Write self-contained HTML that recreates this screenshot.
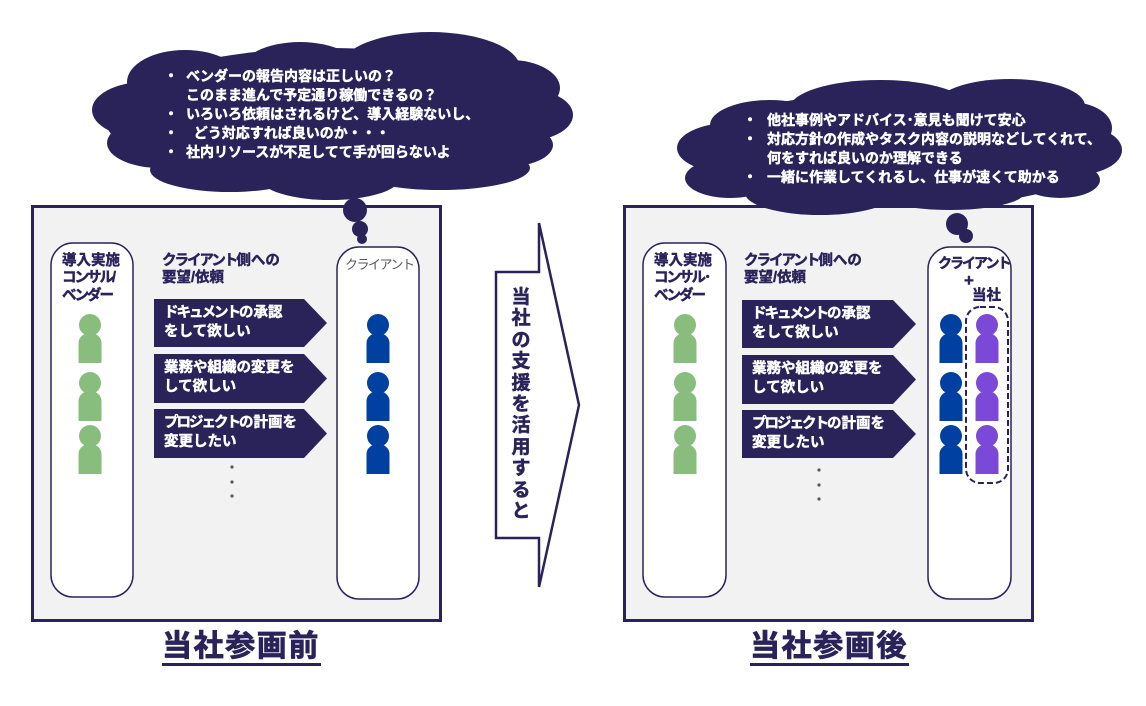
<!DOCTYPE html>
<html><head><meta charset="utf-8">
<style>
html,body{margin:0;padding:0;}
body{width:1146px;height:706px;position:relative;overflow:hidden;background:#fff;font-family:"Liberation Sans","Noto Sans CJK JP",sans-serif;}
.t{position:absolute;white-space:nowrap;font-weight:bold;-webkit-text-stroke:0.45px currentColor;}
.w{color:#fff;font-size:14px;line-height:19px;}
.n{color:#2a235a;}
.k{letter-spacing:-2px;}
.lbl{font-size:14.5px;line-height:17.5px;}
.ar{color:#fff;font-size:14.5px;line-height:19px;}
.ttl{font-size:30px;line-height:34px;color:#2a235a;-webkit-text-stroke:0.8px #2a235a;}
.ul{position:absolute;height:2.5px;background:#2a235a;}
.vt{position:absolute;left:509px;top:287px;width:24px;font-size:19px;line-height:21.4px;font-weight:bold;color:#2a235a;text-align:center;word-break:break-all;-webkit-text-stroke:0.5px #2a235a;}
</style></head><body>
<svg width="1146" height="706" style="position:absolute;left:0;top:0" xmlns="http://www.w3.org/2000/svg">
<rect x="32.5" y="206.5" width="408" height="414" fill="#f2f2f2" stroke="#2a235a" stroke-width="3"/>
<rect x="624.5" y="206.5" width="408" height="414" fill="#f2f2f2" stroke="#2a235a" stroke-width="3"/>
<g fill="#2a235a">
<ellipse cx="330" cy="118" rx="225" ry="70"/>
<ellipse cx="185" cy="82" rx="58" ry="32"/>
<ellipse cx="145" cy="110" rx="53" ry="28"/>
<ellipse cx="160" cy="143" rx="53" ry="25"/>
<ellipse cx="230" cy="170" rx="80" ry="22"/>
<ellipse cx="330" cy="178" rx="70" ry="22"/>
<ellipse cx="440" cy="168" rx="90" ry="22"/>
<ellipse cx="300" cy="72" rx="60" ry="30"/>
<ellipse cx="430" cy="68" rx="90" ry="36"/>
<ellipse cx="510" cy="88" rx="50" ry="28"/>
<ellipse cx="525" cy="115" rx="48" ry="26"/>
<ellipse cx="505" cy="145" rx="48" ry="22"/>
<circle cx="355" cy="210" r="12"/>
<circle cx="360" cy="229" r="8"/>
<circle cx="362" cy="239" r="5"/>
</g>
<g fill="#2a235a">
<ellipse cx="900" cy="150" rx="210" ry="58"/>
<ellipse cx="770" cy="125" rx="60" ry="25"/>
<ellipse cx="880" cy="108" rx="90" ry="28"/>
<ellipse cx="1010" cy="106" rx="75" ry="27"/>
<ellipse cx="1070" cy="128" rx="42" ry="26"/>
<ellipse cx="730" cy="148" rx="53" ry="25"/>
<ellipse cx="730" cy="178" rx="45" ry="20"/>
<ellipse cx="1075" cy="150" rx="47" ry="25"/>
<ellipse cx="1060" cy="180" rx="40" ry="18"/>
<ellipse cx="820" cy="193" rx="75" ry="22"/>
<ellipse cx="950" cy="192" rx="75" ry="18"/>
<circle cx="957" cy="224" r="11"/>
<circle cx="966" cy="236" r="7"/>
</g>
<g fill="#fff" stroke="#2a235a" stroke-width="1.5">
<rect x="51" y="243" width="82" height="354" rx="22"/>
<rect x="337" y="247" width="82" height="352" rx="22"/>
<rect x="643" y="243" width="83" height="354" rx="22"/>
<rect x="928" y="247" width="83" height="352" rx="22"/>
</g>
<g fill="#2a235a">
<polygon points="154,299 304,299 327,323 304,347 154,347"/>
<polygon points="154,354 304,354 327,378.5 304,403 154,403"/>
<polygon points="154,409 304,409 327,433.5 304,458 154,458"/>
<polygon points="742,300 893,300 916,324 893,348 742,348"/>
<polygon points="742,355 893,355 916,379.5 893,404 742,404"/>
<polygon points="742,410 893,410 916,434 893,458 742,458"/>
</g>
<g fill="#595959">
<circle cx="232" cy="467" r="1.6"/><circle cx="232" cy="482" r="1.6"/><circle cx="232" cy="496" r="1.6"/>
<circle cx="819" cy="470" r="1.6"/><circle cx="819" cy="485" r="1.6"/><circle cx="819" cy="499" r="1.6"/>
</g>
<rect x="966" y="307" width="42" height="176" rx="14" fill="none" stroke="#2a235a" stroke-width="2" stroke-dasharray="6,3"/>
<defs>
<g id="p">
<circle cx="0" cy="0" r="11"/>
<path d="M-11.5,38 V18 A11.5,10 0 0 1 11.5,18 V38 Z"/>
</g>
</defs>
<g fill="#88bd7e">
<use href="#p" x="90" y="325"/><use href="#p" x="90" y="383"/><use href="#p" x="90" y="436"/>
<use href="#p" x="685" y="325"/><use href="#p" x="685" y="383"/><use href="#p" x="685" y="436"/>
</g>
<g fill="#0040a0">
<use href="#p" x="378" y="325"/><use href="#p" x="378" y="383"/><use href="#p" x="378" y="436"/>
<use href="#p" x="951" y="325"/><use href="#p" x="951" y="383"/><use href="#p" x="951" y="436"/>
</g>
<g fill="#7b48d8">
<use href="#p" x="987" y="325"/><use href="#p" x="987" y="383"/><use href="#p" x="987" y="436"/>
</g>
<polygon points="496,272 539,272 539,223 579,405 539,587 539,538 496,538" fill="#fff" stroke="#2a235a" stroke-width="2.5" stroke-linejoin="miter"/>
</svg>

<div class="t w" style="left:164px;top:67px;">・<br><br>・<br>・<br>・</div>
<div class="t w" style="left:186px;top:67px;">ベンダーの報告内容は正しいの？<br>このまま進んで予定通り稼働できるの？<br>いろいろ依頼はされるけど、導入経験ないし、<br>&nbsp;&nbsp;どう対応すれば良いのか・・・<br>社内リソースが不足してて手が回らないよ</div>

<div class="t w" style="left:743px;top:111px;">・<br>・<br><br>・</div>
<div class="t w" style="left:767px;top:111px;">他社事例やアドバイス･意見も聞けて安心<br>対応方針の作成やタスク内容の説明などしてくれて、<br>何をすれば良いのか理解できる<br>一緒に作業してくれるし、仕事が速くて助かる</div>

<div class="t n lbl" style="left:62px;top:252.5px;">導入実施<br><span class="k">コンサル</span>/<br><span class="k">ベンダー</span></div>
<div class="t n lbl" style="left:162px;top:252.5px;line-height:17px;"><span class="k">クライアント</span>側への<br>要望/依頼</div>
<div class="t" style="left:345px;top:255px;font-weight:normal;-webkit-text-stroke:0;color:#595959;font-size:13px;line-height:19px;letter-spacing:-1.5px;">クライアント</div>
<div class="t ar" style="left:164px;top:303.7px;"><span class="k">ドキュメント</span>の承認<br>をして欲しい</div>
<div class="t ar" style="left:164px;top:358.7px;">業務や組織の変更を<br>して欲しい</div>
<div class="t ar" style="left:164px;top:413.7px;"><span class="k">プロジェクト</span>の計画を<br>変更したい</div>

<div class="t n lbl" style="left:654px;top:252.5px;">導入実施<br><span class="k">コンサル</span>･<br><span class="k">ベンダー</span></div>
<div class="t n lbl" style="left:744px;top:252.5px;line-height:17px;"><span class="k">クライアント</span>側への<br>要望/依頼</div>
<div class="t n" style="left:938px;top:254px;font-size:14px;line-height:19px;letter-spacing:-2px;">クライアント</div>
<div class="t n" style="left:964px;top:271px;font-size:17px;line-height:20px;">+</div>
<div class="t n" style="left:972px;top:287px;font-size:14.5px;line-height:19px;">当社</div>
<div class="t ar" style="left:752px;top:304.7px;"><span class="k">ドキュメント</span>の承認<br>をして欲しい</div>
<div class="t ar" style="left:752px;top:359.7px;">業務や組織の変更を<br>して欲しい</div>
<div class="t ar" style="left:752px;top:414.7px;"><span class="k">プロジェクト</span>の計画を<br>変更したい</div>

<div class="vt">当社の支援を活用すると</div>

<div class="t ttl" style="left:162px;top:630px;letter-spacing:1.6px;">当社参画前</div>
<div class="ul" style="left:162px;top:663px;width:159px;"></div>
<div class="t ttl" style="left:750px;top:630px;letter-spacing:1.6px;">当社参画後</div>
<div class="ul" style="left:750px;top:663px;width:159px;"></div>
</body></html>
